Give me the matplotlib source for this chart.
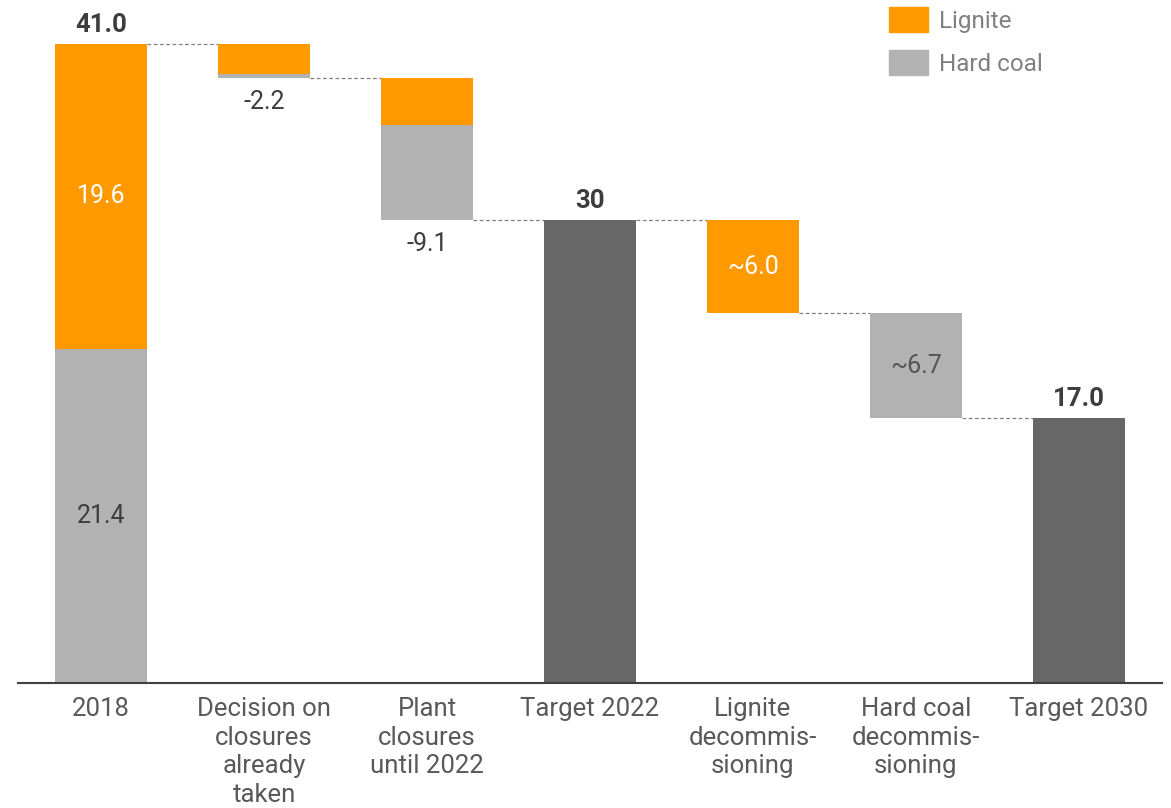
import numpy as np
import matplotlib.pyplot as plt
from matplotlib.patches import Patch

plt.rcParams['font.family'] = ['Roboto', 'DejaVu Sans']

# Data (GW)
categories = ["2018", "Decision on\nclosures\nalready\ntaken", "Plant\nclosures\nuntil 2022",
              "Target 2022", "Lignite\ndecommis-\nsioning", "Hard coal\ndecommis-\nsioning", "Target 2030"]
lignite = [19.6, 1.95, 3.0, 0, 6.0, 0, 0]
hard_coal = [21.4, 0.25, 6.1, 0, 0, 6.7, 0]
target = [0, 0, 0, 29.7, 0, 0, 17.0]
value_labels = ["41.0", "-2.2", "-9.1", "30", "~6.0", "~6.7", "17.0"]

ORANGE = '#ff9900'
LGREY = '#b2b2b2'
DGREY = '#676767'
TXT = '#3d3d3d'

x = np.arange(len(categories))
w = 0.56

# waterfall bottoms / tops
bottoms = []
tops = []
level = 0.0
for i in range(len(categories)):
    step = lignite[i] + hard_coal[i]
    if i == 0:
        bottoms.append(0.0)
        level = step
        tops.append(level)
    elif target[i] > 0:
        bottoms.append(0.0)
        tops.append(target[i])
        level = target[i]
    else:
        bottoms.append(level - step)
        tops.append(level)
        level = level - step
bottoms = np.array(bottoms)
tops = np.array(tops)

fig = plt.figure(figsize=(11.71, 8.08), dpi=100)
ax = fig.add_axes([18 / 1171, 125 / 808, 1144 / 1171, 683 / 808])

ax.bar(x, hard_coal, w, bottom=bottoms, color=LGREY, zorder=2)
ax.bar(x, lignite, w, bottom=bottoms + np.array(hard_coal), color=ORANGE, zorder=2)
ax.bar(x, target, w, color=DGREY, zorder=2)

# connectors: level after each bar
for i in range(len(categories) - 1):
    if i == 0 or target[i] > 0:
        yv = tops[i]
    else:
        yv = bottoms[i]
    ax.plot([x[i] + w / 2, x[i + 1] - w / 2], [yv, yv], ls=(0, (3, 2)), color='#808080', lw=0.9, zorder=1)

# labels
ax.text(x[0], tops[0] + 0.45, value_labels[0], ha='center', va='bottom', fontsize=18.5, fontweight='bold', color=TXT)
ax.text(x[0], hard_coal[0] + lignite[0] / 2, "19.6", ha='center', va='center', fontsize=18, color='white')
ax.text(x[0], hard_coal[0] / 2, "21.4", ha='center', va='center', fontsize=18, color=TXT)
for i in (1, 2):
    ax.text(x[i], bottoms[i] - 0.75, value_labels[i], ha='center', va='top', fontsize=18, color=TXT)
for i in (3, 6):
    ax.text(x[i], tops[i] + 0.45, value_labels[i], ha='center', va='bottom', fontsize=18.5, fontweight='bold', color=TXT)
ax.text(x[4], (bottoms[4] + tops[4]) / 2, value_labels[4], ha='center', va='center', fontsize=18, color='white')
ax.text(x[5], (bottoms[5] + tops[5]) / 2, value_labels[5], ha='center', va='center', fontsize=18, color='#555555')

ax.set_xlim(-0.51, 6.51)
ax.set_ylim(0, 43.8)
ax.set_xticks(x)
ax.set_xticklabels(categories, fontsize=18.5, color='#595959', linespacing=1.25)
ax.tick_params(axis='x', length=0, pad=10)
ax.set_yticks([])
for s in ['top', 'right', 'left']:
    ax.spines[s].set_visible(False)
ax.spines['bottom'].set_color('#404040')
ax.spines['bottom'].set_linewidth(1.5)

handles = [Patch(color=ORANGE, label='Lignite'), Patch(color=LGREY, label='Hard coal')]
leg = fig.legend(handles=handles, loc='upper left', bbox_to_anchor=(872 / 1171, 1.012), frameon=False,
                 fontsize=17.5, handlelength=1.6, handleheight=1.2, handletextpad=0.45,
                 labelspacing=0.72, borderpad=0.2)
for t in leg.get_texts():
    t.set_color('#808080')

fig.savefig('out.png', dpi=100)
